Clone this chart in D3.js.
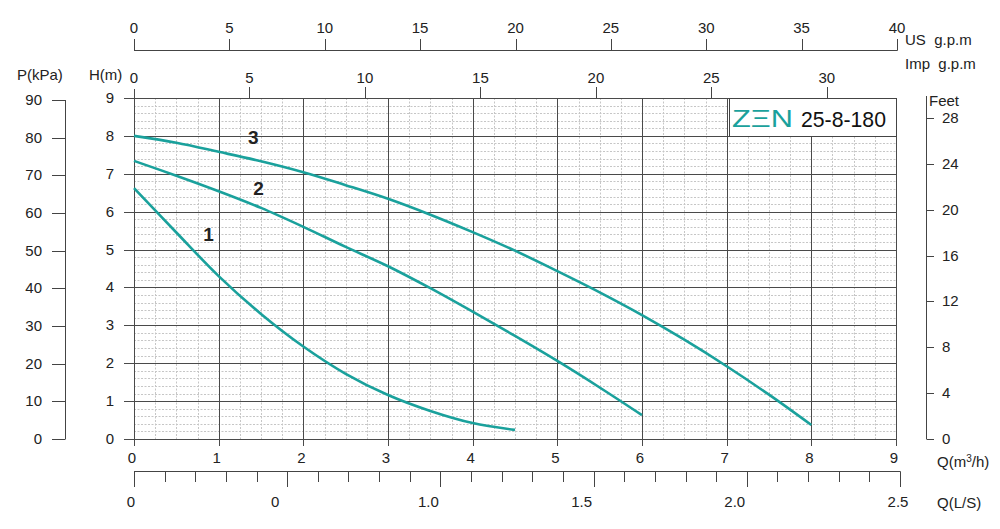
<!DOCTYPE html>
<html>
<head>
<meta charset="utf-8">
<script src="https://cdn.jsdelivr.net/npm/d3@7"></script>
<style>
  body { margin: 0; background: #fff; }
  svg text { font-family: "Liberation Sans", Arial, sans-serif; fill: #222; }
  .major { stroke: #4a4a4a; stroke-width: 1; }
  .minor { stroke: #c6c6c6; stroke-width: 1; stroke-dasharray: 2,1.5; }
  .tick-line { stroke: #444; stroke-width: 1; }
  .curve { fill: none; stroke: #1aa19c; stroke-width: 2.6; }
</style>
</head>
<body>
<div id="graphic"></div>
<script>
// Pump curves, H(m) against Q(m3/h)
var curve1 = [[0, 6.62], [0.5, 5.45], [1, 4.3], [1.5, 3.3], [2, 2.44], [2.5, 1.72], [3, 1.16], [3.5, 0.74], [4, 0.42], [4.5, 0.24]];
var curve2 = [[0, 7.34], [0.5, 6.95], [1, 6.54], [1.5, 6.1], [2, 5.6], [2.5, 5.07], [3, 4.56], [3.5, 3.98], [4, 3.36], [4.5, 2.72], [5, 2.06], [5.5, 1.36], [6, 0.63]];
var curve3 = [[0, 8.0], [0.5, 7.82], [1, 7.58], [1.5, 7.33], [2, 7.04], [2.5, 6.7], [3, 6.34], [3.5, 5.92], [4, 5.46], [4.5, 4.97], [5, 4.43], [5.5, 3.87], [6, 3.27], [6.5, 2.62], [7, 1.92], [7.5, 1.17], [8, 0.37]];
var curveNames = ["1", "2", "3"];
var curveLabelAt = [[0.88, 5.4], [1.47, 6.62], [1.41, 7.98]];

// Tick values
var qTicks    = [0, 1, 2, 3, 4, 5, 6, 7, 8, 9];
var hTicks    = [0, 1, 2, 3, 4, 5, 6, 7, 8, 9];
var pTicks    = [0, 10, 20, 30, 40, 50, 60, 70, 80, 90];
var feetTicks = [0, 4, 8, 12, 16, 20, 24, 28];
var usTicks   = [0, 5, 10, 15, 20, 25, 30, 35, 40];
var impTicks  = [0, 5, 10, 15, 20, 25, 30];
var lsMajor   = [0, 0.5, 1.0, 1.5, 2.0, 2.5];
var lsLabels  = ["0", "0", "1.0", "1.5", "2.0", "2.5"];
var lsMinor   = d3.range(0, 26).map(function(i) { return i / 10; });

(function() {
  var width = 1000, height = 529;

  var x    = d3.scaleLinear().domain([0, 9]).range([134, 896]);
  var y    = d3.scaleLinear().domain([0, 9]).range([439, 98]);
  var xUS  = d3.scaleLinear().domain([0, 40]).range([134, 897]);
  var xImp = d3.scaleLinear().domain([0, 9 * 3.666]).range([134, 896]);
  var xLS  = d3.scaleLinear().domain([0, 2.5]).range([134, 900]);
  var yP   = d3.scaleLinear().domain([0, 90]).range([439, 100]);
  var yFt  = d3.scaleLinear().domain([0, 28]).range([439, 118]);

  var fs = 15;

  var svg = d3.select("#graphic").append("svg")
    .attr("width", width)
    .attr("height", height);

  // Minor grid
  var grid = svg.append("g").attr("class", "grid");
  var minorQ = d3.range(0, 37).map(function(i) { return i / 4; }).filter(function(d) { return d % 1 != 0; });
  var minorH = d3.range(0, 46).map(function(i) { return i / 5; }).filter(function(d) { return Math.abs(d - Math.round(d)) > 0.01; });

  grid.selectAll("line.mq").data(minorQ).enter().append("line")
    .attr("class", "minor")
    .attr("x1", function(d) { return Math.round(x(d)) + 0.5; })
    .attr("x2", function(d) { return Math.round(x(d)) + 0.5; })
    .attr("y1", y(9)).attr("y2", y(0));

  grid.selectAll("line.mh").data(minorH).enter().append("line")
    .attr("class", "minor")
    .attr("y1", function(d) { return Math.round(y(d)) + 0.5; })
    .attr("y2", function(d) { return Math.round(y(d)) + 0.5; })
    .attr("x1", x(0)).attr("x2", x(9));

  // Major grid (incl. frame)
  grid.selectAll("line.vq").data(qTicks).enter().append("line")
    .attr("class", "major")
    .attr("x1", function(d) { return Math.round(x(d)) + 0.5; })
    .attr("x2", function(d) { return Math.round(x(d)) + 0.5; })
    .attr("y1", function(d) { return d == 0 ? 89 : y(9); })
    .attr("y2", function(d) { return y(0) + 7; });

  grid.selectAll("line.hh").data(hTicks).enter().append("line")
    .attr("class", "major")
    .attr("y1", function(d) { return Math.round(y(d)) + 0.5; })
    .attr("y2", function(d) { return Math.round(y(d)) + 0.5; })
    .attr("x1", x(0) - 10).attr("x2", x(9));

  // Bottom Q(m3/h) labels
  svg.append("g").selectAll("text").data(qTicks).enter().append("text")
    .attr("x", function(d) { return x(d) - 2; })
    .attr("y", 463)
    .attr("text-anchor", "middle")
    .attr("font-size", fs)
    .text(function(d) { return d; });

  // Left H(m) labels
  svg.append("g").selectAll("text").data(hTicks).enter().append("text")
    .attr("x", 114)
    .attr("y", function(d) { return y(d) + 5; })
    .attr("text-anchor", "end")
    .attr("font-size", fs)
    .text(function(d) { return d; });

  // Imp g.p.m ticks (above plot)
  var imp = svg.append("g");
  imp.selectAll("line").data(impTicks.slice(1)).enter().append("line")
    .attr("class", "tick-line")
    .attr("x1", function(d) { return Math.round(xImp(d)) + 0.5; })
    .attr("x2", function(d) { return Math.round(xImp(d)) + 0.5; })
    .attr("y1", 87).attr("y2", y(9));
  imp.selectAll("text").data(impTicks).enter().append("text")
    .attr("x", function(d) { return xImp(d); })
    .attr("y", 83)
    .attr("text-anchor", "middle")
    .attr("font-size", fs)
    .text(function(d) { return d; });

  // US g.p.m axis
  var us = svg.append("g");
  us.append("line").attr("class", "tick-line")
    .attr("x1", xUS(0)).attr("x2", xUS(40) + 0.5)
    .attr("y1", 50.5).attr("y2", 50.5);
  us.selectAll("line.t").data(usTicks).enter().append("line")
    .attr("class", "tick-line")
    .attr("x1", function(d) { return Math.round(xUS(d)) + 0.5; })
    .attr("x2", function(d) { return Math.round(xUS(d)) + 0.5; })
    .attr("y1", 39).attr("y2", 50.5);
  us.selectAll("text").data(usTicks).enter().append("text")
    .attr("x", function(d) { return xUS(d); })
    .attr("y", 33)
    .attr("text-anchor", "middle")
    .attr("font-size", fs)
    .text(function(d) { return d; });

  // Q(L/S) axis
  var ls = svg.append("g");
  ls.append("line").attr("class", "tick-line")
    .attr("x1", xLS(0)).attr("x2", xLS(2.5) + 0.5)
    .attr("y1", 471.5).attr("y2", 471.5);
  ls.selectAll("line.t").data(lsMinor).enter().append("line")
    .attr("class", "tick-line")
    .attr("x1", function(d) { return Math.round(xLS(d)) + 0.5; })
    .attr("x2", function(d) { return Math.round(xLS(d)) + 0.5; })
    .attr("y1", 471.5)
    .attr("y2", function(d, i) { return i % 5 == 0 ? 487 : 482; });
  ls.selectAll("text").data(lsMajor).enter().append("text")
    .attr("x", function(d, i) { return xLS(d) - (i == 0 ? 3 : i == 5 ? 2 : 12); })
    .attr("y", 507)
    .attr("text-anchor", "middle")
    .attr("font-size", fs)
    .text(function(d, i) { return lsLabels[i]; });

  // P(kPa) axis
  var p = svg.append("g");
  p.append("line").attr("class", "tick-line")
    .attr("x1", 65.5).attr("x2", 65.5)
    .attr("y1", yP(90)).attr("y2", yP(0));
  p.selectAll("line.t").data(pTicks).enter().append("line")
    .attr("class", "tick-line")
    .attr("x1", 52).attr("x2", 65.5)
    .attr("y1", function(d) { return Math.round(yP(d)) + 0.5; })
    .attr("y2", function(d) { return Math.round(yP(d)) + 0.5; });
  p.selectAll("text").data(pTicks).enter().append("text")
    .attr("x", 42)
    .attr("y", function(d) { return yP(d) + 5; })
    .attr("text-anchor", "end")
    .attr("font-size", fs)
    .text(function(d) { return d; });

  // Feet axis
  var ft = svg.append("g");
  ft.append("line").attr("class", "tick-line")
    .attr("x1", 926.5).attr("x2", 926.5)
    .attr("y1", 96).attr("y2", yFt(0));
  ft.selectAll("line.t").data(feetTicks).enter().append("line")
    .attr("class", "tick-line")
    .attr("x1", 926.5).attr("x2", 934)
    .attr("y1", function(d) { return Math.round(yFt(d)) + 0.5; })
    .attr("y2", function(d) { return Math.round(yFt(d)) + 0.5; });
  ft.selectAll("text").data(feetTicks).enter().append("text")
    .attr("x", 942)
    .attr("y", function(d) { return yFt(d) + 5; })
    .attr("font-size", fs)
    .text(function(d) { return d; });

  // Axis titles
  var titles = [
    ["P(kPa)", 17, 80], ["H(m)", 89, 80], ["US  g.p.m", 905, 45], ["Imp  g.p.m", 905, 69],
    ["Feet", 929, 106], ["Q(L/S)", 937, 508]
  ];
  svg.append("g").selectAll("text").data(titles).enter().append("text")
    .attr("x", function(d) { return d[1]; })
    .attr("y", function(d) { return d[2]; })
    .attr("font-size", fs)
    .attr("xml:space", "preserve")
    .text(function(d) { return d[0]; });

  var qt = svg.append("text").attr("x", 937).attr("y", 467).attr("font-size", fs);
  qt.append("tspan").text("Q(m");
  qt.append("tspan").attr("font-size", 10).attr("dy", -5).text("3");
  qt.append("tspan").attr("dy", 5).text("/h)");

  // Curves
  var line = d3.line()
    .x(function(d) { return x(d[0]); })
    .y(function(d) { return y(d[1]); })
    .curve(d3.curveCatmullRom);

  svg.append("g").selectAll("path").data([curve1, curve2, curve3]).enter().append("path")
    .attr("class", "curve")
    .attr("d", line);

  svg.append("g").selectAll("text").data(curveLabelAt).enter().append("text")
    .attr("x", function(d) { return x(d[0]); })
    .attr("y", function(d) { return y(d[1]) + 7; })
    .attr("text-anchor", "middle")
    .attr("font-size", 19)
    .attr("font-weight", "bold")
    .text(function(d, i) { return curveNames[i]; });

  // Model box
  var box = svg.append("g");
  box.append("rect")
    .attr("x", 729.5).attr("y", Math.round(y(9)) + 0.5)
    .attr("width", Math.round(x(9)) - 729)
    .attr("height", Math.round(y(8)) - Math.round(y(9)))
    .attr("fill", "#fff")
    .attr("stroke", "#444");
  box.append("text")
    .attr("x", 732).attr("y", 127)
    .attr("font-size", 24)
    .attr("textLength", 61)
    .attr("lengthAdjust", "spacingAndGlyphs")
    .style("fill", "#1aa19c")
    .text("ZΞN");
  box.append("text")
    .attr("x", 801).attr("y", 127)
    .attr("font-size", 22)
    .attr("textLength", 85)
    .attr("lengthAdjust", "spacingAndGlyphs")
    .style("fill", "#111")
    .text("25-8-180");
})();
</script>
</body>
</html>
